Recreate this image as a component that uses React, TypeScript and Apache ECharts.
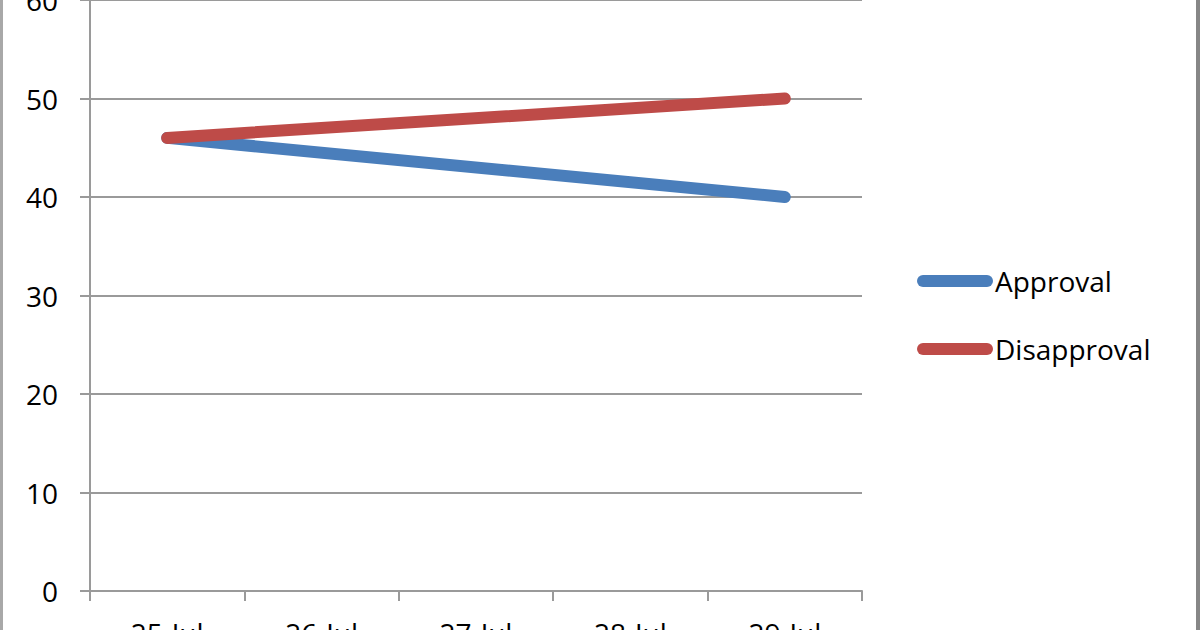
import React, { useEffect, useRef } from 'react';
import * as echarts from 'echarts';

const dates = ['25-Jul', '26-Jul', '27-Jul', '28-Jul', '29-Jul'];
// only the first and last day were polled
const approval = [46, null, null, null, 40];
const disapproval = [46, null, null, null, 50];
const yTicks = [0, 10, 20, 30, 40, 50, 60];

const FONT = '"Open Sans", sans-serif';
const capsule = 'path://M6,0 H70 A6,6 0 0 1 70,12 H6 A6,6 0 0 1 6,0 Z';

const App: React.FC = () => {
  const chartRef = useRef<HTMLDivElement>(null);

  useEffect(() => {
    if (!chartRef.current) return;
    document.body.style.margin = '0';

    const chart = echarts.init(chartRef.current, undefined, { renderer: 'svg' });

    const option = {
      animation: false,
      backgroundColor: '#ffffff',
      grid: { left: 90, right: 338, top: 0, bottom: 39, outerBoundsMode: 'none', containLabel: false },
      legend: {
        orient: 'vertical',
        left: 912,
        top: 262,
        itemWidth: 76,
        itemHeight: 12,
        itemGap: 40,
        data: [
          { name: 'Approval', icon: capsule },
          { name: 'Disapproval', icon: capsule },
        ],
        textStyle: { fontFamily: FONT, fontSize: 28, color: '#000', padding: [4, 0, 0, -3] },
      },
      xAxis: {
        type: 'category',
        data: dates,
        boundaryGap: true,
        axisLine: { lineStyle: { color: '#9a9a9a', width: 2 } },
        axisTick: { show: true, length: 10, lineStyle: { color: '#9a9a9a', width: 2 } },
        axisLabel: { fontFamily: FONT, fontSize: 28, color: '#000', margin: 28 },
        splitLine: { show: false },
      },
      yAxis: {
        type: 'value',
        min: yTicks[0],
        max: yTicks[yTicks.length - 1],
        interval: 10,
        axisLine: { show: true, lineStyle: { color: '#9a9a9a', width: 2 } },
        axisTick: { show: true, length: 10, lineStyle: { color: '#9a9a9a', width: 2 } },
        axisLabel: { fontFamily: FONT, fontSize: 28, color: '#000', margin: 32 },
        splitLine: { show: true, lineStyle: { color: '#9a9a9a', width: 2 } },
      },
      series: [
        {
          name: 'Approval',
          type: 'line',
          data: approval,
          connectNulls: true,
          symbol: 'none',
          itemStyle: { color: '#4A7EBB' },
          lineStyle: { color: '#4A7EBB', width: 12, cap: 'round' },
        },
        {
          name: 'Disapproval',
          type: 'line',
          data: disapproval,
          connectNulls: true,
          symbol: 'none',
          itemStyle: { color: '#BE4B48' },
          lineStyle: { color: '#BE4B48', width: 12, cap: 'round' },
        },
      ],
      graphic: [
        { type: 'rect', left: 0, top: 0, shape: { width: 3, height: 630 }, style: { fill: '#a8a8a8' } },
        { type: 'rect', right: 0, top: 0, shape: { width: 4, height: 630 }, style: { fill: '#868686' } },
      ],
    };

    chart.setOption(option);

    return () => {
      chart.dispose();
    };
  }, []);

  return <div ref={chartRef} style={{ width: '1200px', height: '630px' }} />;
};

export default App;
